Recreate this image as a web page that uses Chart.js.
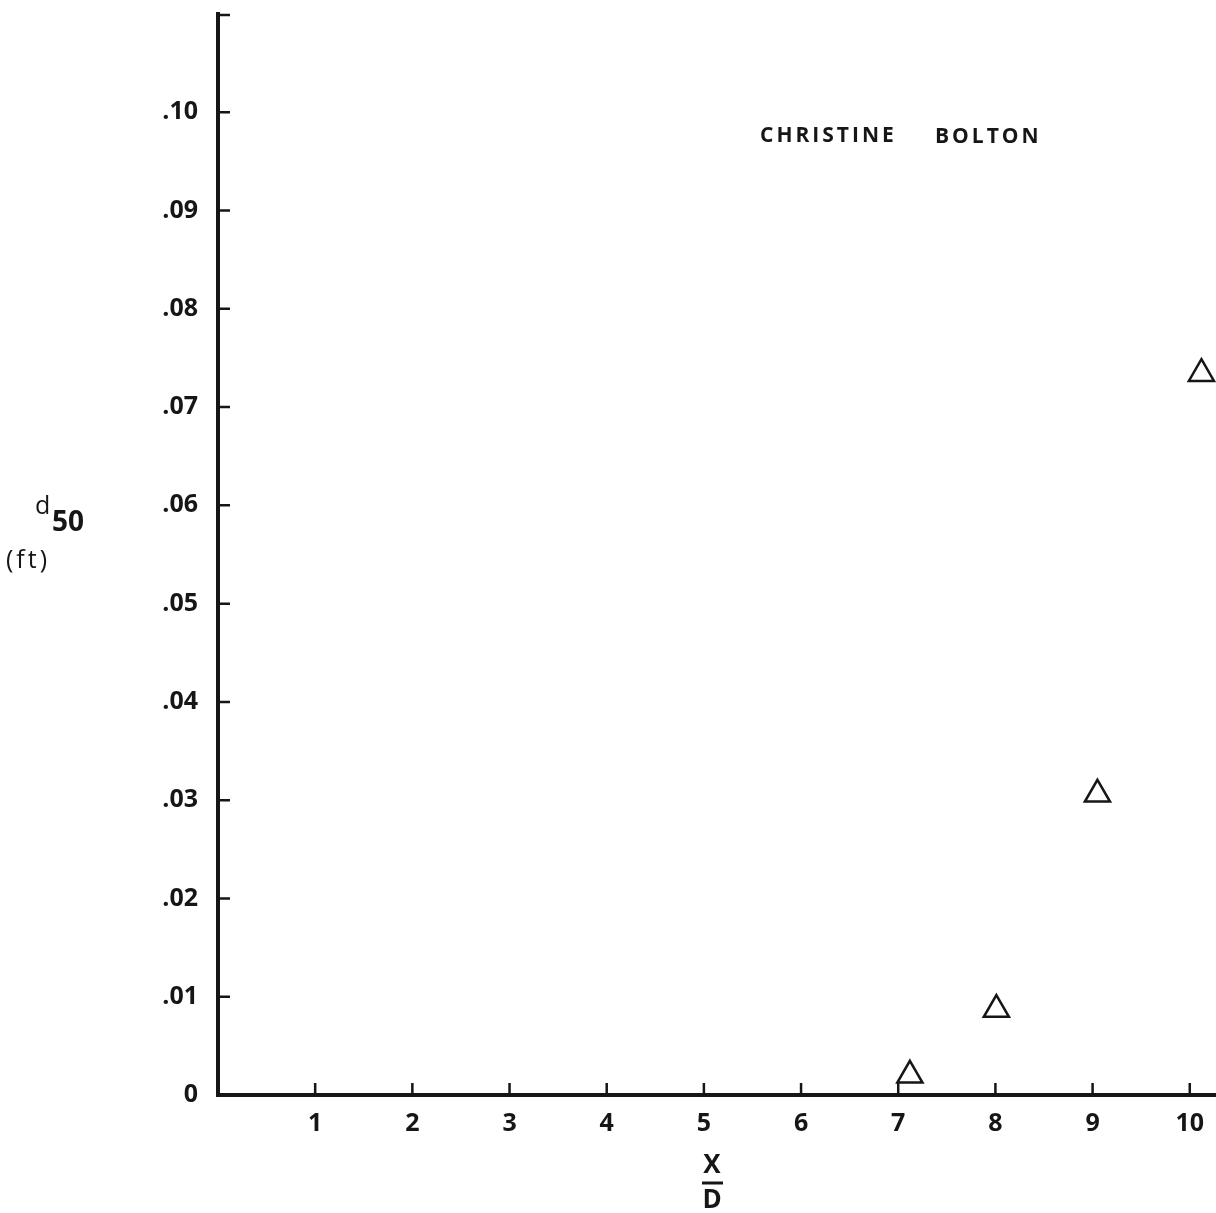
<!DOCTYPE html>
<html><head><meta charset="utf-8">
<script src="https://cdn.jsdelivr.net/npm/chart.js@4.4.0/dist/chart.umd.min.js"></script>
<style>html,body{margin:0;padding:0;background:#fff;} #wrap{width:1216px;height:1213px;position:relative;}</style>
</head><body><div id="wrap"><canvas id="c" width="1216" height="1213"></canvas></div>
<script>
// ---- data ----
const xValues = [7.12, 8.01, 9.05, 10.12];
const d50Values = [0.0020, 0.0087, 0.0306, 0.0734];
const xTickValues = [1, 2, 3, 4, 5, 6, 7, 8, 9, 10];
const xTickLabels = ['1', '2', '3', '4', '5', '6', '7', '8', '9', '10'];
const yTickValues = [0, 0.01, 0.02, 0.03, 0.04, 0.05, 0.06, 0.07, 0.08, 0.09, 0.10];
const yTickLabels = ['0', '.01', '.02', '.03', '.04', '.05', '.06', '.07', '.08', '.09', '.10'];
const chartTitle = 'CHRISTINE BOLTON';
const xAxisNumerator = 'X';
const xAxisDenominator = 'D';
const yAxisSymbol = 'd';
const yAxisSubscript = '50';
const yAxisUnit = '(ft)';

const INK = '#161616';
const FONT = '"Open Sans", "DejaVu Sans", sans-serif';

function zeroPad(s) { s.paddingLeft = 0; s.paddingRight = 0; s.paddingTop = 0; s.paddingBottom = 0; }

const decor = {
  id: 'decor',
  afterDraw(chart) {
    const ctx = chart.ctx;
    const xs = chart.scales.x, ys = chart.scales.y;
    ctx.save();
    ctx.strokeStyle = INK;
    ctx.lineWidth = 2.5;
    ctx.beginPath();
    yTickValues.forEach(v => {
      if (v === 0) return;
      const py = ys.getPixelForValue(v);
      ctx.moveTo(xs.left, py); ctx.lineTo(xs.left + 12, py);
    });
    ctx.moveTo(xs.left, ys.top + 1); ctx.lineTo(xs.left + 12, ys.top + 1);
    xTickValues.forEach(v => {
      const px = xs.getPixelForValue(v);
      ctx.moveTo(px, ys.bottom); ctx.lineTo(px, ys.bottom - 12);
    });
    ctx.stroke();

    ctx.fillStyle = INK;
    // title
    const words = chartTitle.split(' ');
    ctx.font = 'bold 21px ' + FONT;
    ctx.textAlign = 'left';
    ctx.textBaseline = 'middle';
    if ('letterSpacing' in ctx) ctx.letterSpacing = '3px';
    ctx.fillText(words[0], 760, 136);
    ctx.fillText(words[1], 935, 137);
    if ('letterSpacing' in ctx) ctx.letterSpacing = '0px';

    // y axis label
    ctx.textBaseline = 'alphabetic';
    ctx.font = '25px ' + FONT;
    ctx.fillText(yAxisSymbol, 35, 514);
    ctx.font = 'bold 28px ' + FONT;
    ctx.fillText(yAxisSubscript, 52, 531);
    ctx.font = '25px ' + FONT;
    if ('letterSpacing' in ctx) ctx.letterSpacing = '3px';
    ctx.fillText(yAxisUnit, 6, 568);
    if ('letterSpacing' in ctx) ctx.letterSpacing = '0px';

    // x axis label (fraction)
    ctx.textAlign = 'center';
    ctx.textBaseline = 'middle';
    ctx.font = 'bold 26px ' + FONT;
    ctx.fillText(xAxisNumerator, 712, 1166);
    ctx.fillText(xAxisDenominator, 712, 1201);
    ctx.lineWidth = 3;
    ctx.beginPath();
    ctx.moveTo(702, 1183); ctx.lineTo(723, 1183);
    ctx.stroke();
    ctx.restore();
  }
};

new Chart(document.getElementById('c'), {
  type: 'scatter',
  data: {
    datasets: [{
      data: xValues.map((x, i) => ({ x: x, y: d50Values[i] })),
      pointStyle: 'triangle',
      pointRadius: 14.5,
      pointHoverRadius: 14.5,
      pointBorderWidth: 2.5,
      pointBorderColor: INK,
      pointBackgroundColor: 'rgba(255,255,255,0)',
      showLine: false,
      clip: false
    }]
  },
  options: {
    responsive: false,
    animation: false,
    devicePixelRatio: 1,
    layout: { autoPadding: false, padding: { top: 14, right: 0, left: 0, bottom: 0 } },
    plugins: { legend: { display: false }, tooltip: { enabled: false }, title: { display: false } },
    scales: {
      x: {
        type: 'linear', position: 'bottom', min: 0, max: 10.27,
        afterFit: s => { s.height = 118; zeroPad(s); },
        afterBuildTicks: s => { s.ticks = xTickValues.map(v => ({ value: v })); },
        ticks: {
          callback: (v, i) => xTickLabels[i],
          font: { family: FONT, size: 25, weight: 'bold' },
          color: INK, padding: 14, maxRotation: 0, autoSkip: false
        },
        grid: { display: false, drawTicks: false },
        border: { display: true, color: INK, width: 4 }
      },
      y: {
        type: 'linear', min: 0, max: 0.110,
        afterFit: s => { s.width = 218; zeroPad(s); },
        afterBuildTicks: s => { s.ticks = yTickValues.map(v => ({ value: v })); },
        ticks: {
          callback: (v, i) => yTickLabels[i],
          font: { family: FONT, size: 25, weight: 'bold' },
          color: INK, padding: 20, autoSkip: false
        },
        grid: { display: false, drawTicks: false },
        border: { display: true, color: INK, width: 4 }
      }
    }
  },
  plugins: [decor]
});
</script>
</body></html>
